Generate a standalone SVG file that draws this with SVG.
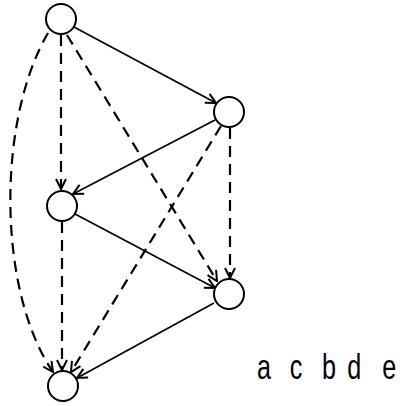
<svg xmlns="http://www.w3.org/2000/svg" width="402" height="406" viewBox="0 0 402 406">
<style>
  .node circle { fill: #fff; stroke: #000; stroke-width: 2; }
  .solid { fill: none; stroke: #000; stroke-width: 1.7; marker-end: url(#arr); }
  .dash { fill: none; stroke: #000; stroke-width: 2.2; stroke-dasharray: 11 7; marker-end: url(#arr); }
  .label { font-family: "Liberation Sans", "DejaVu Sans", sans-serif; font-size: 36px; fill: #000; }
</style>
<defs>
  <marker id="arr" viewBox="0 0 12 12" refX="11" refY="6" markerWidth="12" markerHeight="12" markerUnits="userSpaceOnUse" orient="auto">
    <path d="M1,1 L11,6 L1,11" fill="none" stroke="#000" stroke-width="2" stroke-dasharray="none"/>
  </marker>
</defs>
<rect width="402" height="406" fill="#fff"/>
<g id="connectors">
  <path class="solid" d="M74,27 L216,103"/>
  <path class="solid" d="M215,120 L73,194"/>
  <path class="solid" d="M75,214 L215,288"/>
  <path class="solid" d="M214,303 L77,378"/>
  <path class="dash" d="M61,35 L61,189"/>
  <path class="dash" d="M62,222 L62,370"/>
  <path class="dash" d="M48,33 C -3,120 -3,290 53,372"/>
  <path class="dash" d="M67,35 L217,281"/>
  <path class="dash" d="M230,128 L230,278"/>
  <path class="dash" d="M221,126 L71,372"/>
</g>
<g id="node-a" class="node"><circle cx="61" cy="19" r="15"/></g>
<g id="node-b" class="node"><circle cx="229" cy="112" r="15"/></g>
<g id="node-c" class="node"><circle cx="62" cy="206" r="15"/></g>
<g id="node-d" class="node"><circle cx="229" cy="294" r="15"/></g>
<g id="node-e" class="node"><circle cx="63" cy="386" r="15"/></g>
<text class="label" transform="scale(0.7,1)" x="367 389 414 434 460 483 496 520 546" y="379">a c b d e</text>
</svg>
